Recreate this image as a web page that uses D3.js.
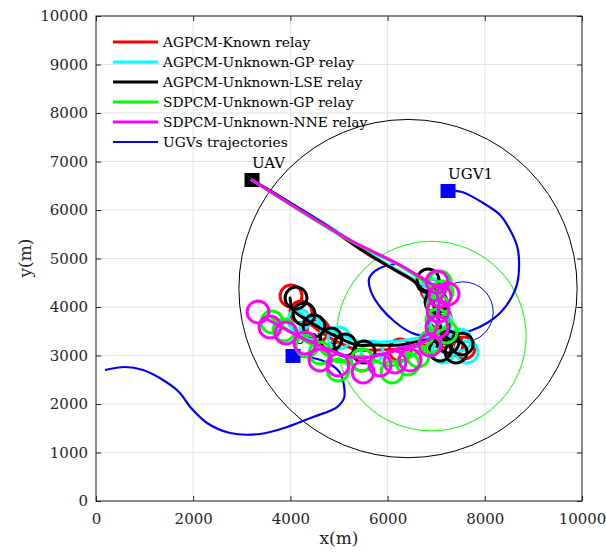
<!DOCTYPE html>
<html>
<head>
<meta charset="utf-8">
<script src="https://cdn.jsdelivr.net/npm/d3@7"></script>
<style>
  html, body { margin: 0; padding: 0; background: #fff; }
  svg { display: block; font-family: "DejaVu Serif", serif; }
</style>
</head>
<body>
<svg id="chart" width="606" height="555"></svg>
<script>
// ---- axis ticks ----
const xTicks = [0, 2000, 4000, 6000, 8000, 10000];
const yTicks = [0, 1000, 2000, 3000, 4000, 5000, 6000, 7000, 8000, 9000, 10000];

// ---- vehicles (start markers) ----
const vehicleNames = ["UAV", "UGV1", "UGV2"];
const vehicleX = [3210, 7244, 4054];
const vehicleY = [6619, 6392, 2990];
const vehicleColors = ["#000000", "#0000ff", "#0000ff"];

// ---- range circles [cx, cy, r] ----
const rangeBlack = [6420, 4380, 3480];
const rangeGreen = [6900, 3400, 1950];
const rangeBlueSmall = [7553, 3897, 620];

// ---- UGV trajectories ----
const ugv1Traj = [
  [7244, 6392], [7532, 6372], [7964, 6145], [8314, 5897], [8520, 5588], [8664, 5258],
  [8705, 4928], [8664, 4475], [8520, 4145], [8314, 3877], [8047, 3670], [7697, 3505],
  [7285, 3402], [6874, 3382], [6503, 3464], [6153, 3691], [5865, 3980], [5660, 4310],
  [5618, 4578], [5742, 4743], [5948, 4846], [6174, 4887]
];
const ugv2Traj = [
  [4054, 2990], [4466, 2949], [4816, 2825], [5022, 2639], [5104, 2371], [5104, 2124],
  [4960, 1938], [4466, 1732], [3931, 1526], [3375, 1382], [2758, 1402], [2284, 1608],
  [1955, 1918], [1708, 2248], [1379, 2495], [967, 2701], [597, 2763], [185, 2701]
];

// ---- relay series: names and colours ----
const relayNames = [
  "AGPCM-Known relay", "AGPCM-Unknown-GP relay", "AGPCM-Unknown-LSE relay",
  "SDPCM-Unknown-GP relay", "SDPCM-Unknown-NNE relay"
];
const relayColors = ["#ff0000", "#00ffff", "#000000", "#00ff00", "#ff00ff"];
const loopRadius = 225;

// relay paths: transit from the UAV then drift along the UGVs
const redPath = [
  [3210, 6619], [3993, 6140], [4816, 5620], [5536, 5125], [6153, 4760], [6565, 4510],
  [6771, 4310], [6915, 4103], [7038, 3732], [7162, 3361], [7326, 3196], [7080, 3175],
  [6812, 3217], [6256, 3134], [5701, 3114], [5371, 3114], [5022, 3258], [4651, 3464],
  [4363, 3691], [4095, 3938]
];
const cyanPath = [
  [3210, 6619], [3993, 6150], [4816, 5650], [5536, 5160], [6153, 4790], [6620, 4520],
  [6874, 4392], [6997, 4145], [7080, 3732], [7182, 3402], [7388, 3320], [7080, 3320],
  [6812, 3382], [6256, 3299], [5701, 3279], [5371, 3299], [4960, 3464], [4610, 3629],
  [4342, 3773], [4095, 3959]
];
const blackPath = [
  [3210, 6619], [3993, 6145], [4816, 5629], [5536, 5134], [6153, 4763], [6565, 4516],
  [6668, 4351], [6812, 4289], [6915, 4145], [7038, 3773], [7141, 3444], [7326, 3279],
  [7080, 3258], [6812, 3320], [6256, 3217], [5701, 3217], [5371, 3217], [4960, 3382],
  [4610, 3567], [4342, 3732], [4054, 3938], [3993, 4186]
];
const greenPath = [
  [3210, 6619], [4198, 5985], [5227, 5365], [6256, 4850], [6833, 4475], [7080, 4351],
  [7038, 4042], [7018, 3732], [6915, 3320], [6627, 3072], [6359, 2907], [6051, 2784],
  [5474, 2990], [4980, 2866], [4610, 3114], [4342, 3279], [3890, 3567], [3622, 3773]
];
const magentaPath = [
  [3210, 6619], [4198, 6000], [5227, 5382], [6256, 4866], [6874, 4495], [7182, 4310],
  [7080, 4145], [7038, 3835], [6997, 3526], [6833, 3320], [6565, 3217], [6256, 3155],
  [5845, 3011], [5371, 2949], [4919, 3072], [4569, 3217], [4198, 3382], [3848, 3567],
  [3478, 3773]
];

// loiter loop centres
const redLoops = [
  [4013, 4227], [4219, 3897], [4569, 3526], [5474, 2907], [6256, 3114],
  [6915, 4351], [7080, 3773], [7326, 3217], [7573, 3155]
];
const cyanLoops = [
  [4178, 3732], [4425, 3567], [5001, 3361], [5680, 3072], [6956, 4351],
  [7100, 3691], [7141, 3072], [7491, 3320], [7635, 3072]
];
const blackLoops = [
  [4116, 4186], [4281, 3856], [4486, 3609], [4836, 3340], [5124, 3217], [5515, 3072],
  [6833, 4557], [6997, 4103], [7038, 3609], [7244, 3279], [7532, 3237], [7409, 3072],
  [7080, 3114]
];
const greenLoops = [
  [3622, 3691], [3869, 3526], [4342, 3196], [4610, 3052], [4980, 2701], [5474, 2907],
  [6092, 2660], [6421, 2825], [6627, 2990], [6874, 3279], [7018, 3732], [7038, 4021],
  [7121, 4310], [7080, 4516], [7203, 3485]
];
const magentaLoops = [
  [3334, 3897], [3581, 3588], [3910, 3464], [4301, 3258], [4610, 2907], [4980, 2804],
  [5495, 2660], [5845, 2804], [6153, 2866], [6462, 2907], [6874, 3217], [7018, 3588],
  [7038, 3918], [7080, 4227], [7018, 4516], [7244, 4268]
];

const relayPaths = [redPath, cyanPath, blackPath, greenPath, magentaPath];
const relayLoops = [redLoops, cyanLoops, blackLoops, greenLoops, magentaLoops];

// ---- layout ----
const svg = d3.select("#chart");
const x = d3.scaleLinear().domain([0, 10000]).range([96, 582]);
const y = d3.scaleLinear().domain([0, 10000]).range([501, 16]);
const axisColor = "#262626";
const rx = v => x(v) - x(0);

// grid
const grid = svg.append("g");
grid.selectAll(".gx").data(xTicks).join("line")
  .attr("x1", d => x(d)).attr("x2", d => x(d))
  .attr("y1", y(0)).attr("y2", y(10000))
  .attr("stroke", "#e3e3e3").attr("stroke-width", 1);
grid.selectAll(".gy").data(yTicks).join("line")
  .attr("y1", d => y(d)).attr("y2", d => y(d))
  .attr("x1", x(0)).attr("x2", x(10000))
  .attr("stroke", "#e3e3e3").attr("stroke-width", 1);

const plot = svg.append("g");

// range circles
[[rangeBlack, "#000000", 1], [rangeGreen, "#00ff00", 1], [rangeBlueSmall, "#0000ff", 1]]
  .forEach(([c, col, w]) => {
    plot.append("circle")
      .attr("cx", x(c[0])).attr("cy", y(c[1])).attr("r", rx(c[2]))
      .attr("fill", "none").attr("stroke", col).attr("stroke-width", w);
  });

const line = d3.line().x(d => x(d[0])).y(d => y(d[1])).curve(d3.curveCatmullRom.alpha(0.5));

// UGV trajectories
[ugv1Traj, ugv2Traj].forEach(t => {
  plot.append("path").attr("d", line(t))
    .attr("fill", "none").attr("stroke", "#0000ff").attr("stroke-width", 2.2);
});

// vehicle markers and labels
vehicleNames.forEach((n, i) => {
  const cx = x(vehicleX[i]), cy = y(vehicleY[i]);
  plot.append("rect")
    .attr("x", cx - 7.5).attr("y", cy - 7).attr("width", 15).attr("height", 14)
    .attr("fill", vehicleColors[i]);
  plot.append("text")
    .attr("x", cx).attr("y", cy - 12)
    .attr("font-size", 15).attr("fill", "#000")
    .text(n);
});

// relay paths and loiter loops
relayPaths.forEach((p, i) => {
  const g = plot.append("g");
  g.append("path").attr("d", line(p))
    .attr("fill", "none").attr("stroke", relayColors[i]).attr("stroke-width", 3)
    .attr("stroke-linejoin", "round").attr("stroke-linecap", "round");
  g.selectAll("circle").data(relayLoops[i]).join("circle")
    .attr("cx", d => x(d[0])).attr("cy", d => y(d[1])).attr("r", rx(loopRadius))
    .attr("fill", "none").attr("stroke", relayColors[i]).attr("stroke-width", 3);
});

// frame
svg.append("rect")
  .attr("x", x(0)).attr("y", y(10000))
  .attr("width", x(10000) - x(0)).attr("height", y(0) - y(10000))
  .attr("fill", "none").attr("stroke", axisColor).attr("stroke-width", 1);

// axes with inward ticks
function styleAxis(g) {
  g.select(".domain").remove();
  g.selectAll(".tick line").attr("stroke", axisColor);
  g.selectAll(".tick text").attr("fill", axisColor).attr("font-size", 15)
    .attr("font-family", "DejaVu Serif, serif");
}
svg.append("g").attr("transform", `translate(0,${y(0)})`)
  .call(d3.axisBottom(x).tickValues(xTicks).tickFormat(d3.format("d"))
    .tickSizeInner(-5).tickSizeOuter(0).tickPadding(12))
  .call(styleAxis);
svg.append("g").attr("transform", `translate(0,${y(10000)})`)
  .call(d3.axisTop(x).tickValues(xTicks).tickFormat("")
    .tickSizeInner(-5).tickSizeOuter(0))
  .call(styleAxis);
svg.append("g").attr("transform", `translate(${x(0)},0)`)
  .call(d3.axisLeft(y).tickValues(yTicks).tickFormat(d3.format("d"))
    .tickSizeInner(-5).tickSizeOuter(0).tickPadding(8))
  .call(styleAxis);
svg.append("g").attr("transform", `translate(${x(10000)},0)`)
  .call(d3.axisRight(y).tickValues(yTicks).tickFormat("")
    .tickSizeInner(-5).tickSizeOuter(0))
  .call(styleAxis);

// axis titles
svg.append("text").attr("x", 339).attr("y", 544).attr("text-anchor", "middle")
  .attr("font-size", 17).attr("fill", axisColor).text("x(m)");
svg.append("text").attr("transform", "translate(31,258) rotate(-90)")
  .attr("text-anchor", "middle").attr("font-size", 17).attr("fill", axisColor).text("y(m)");

// legend
const legendNames = relayNames.concat(["UGVs trajectories"]);
const legendColors = relayColors.concat(["#0000ff"]);
const legendWidths = [3, 3, 3, 3, 3, 2];
const lg = svg.append("g");
legendNames.forEach((n, i) => {
  const ly = 42 + i * 20;
  lg.append("line").attr("x1", 113).attr("x2", 158).attr("y1", ly).attr("y2", ly)
    .attr("stroke", legendColors[i]).attr("stroke-width", legendWidths[i]);
  lg.append("text").attr("x", 163).attr("y", ly).attr("dy", "0.35em")
    .attr("font-size", 13.8).attr("fill", "#000").text(n);
});
</script>
</body>
</html>
